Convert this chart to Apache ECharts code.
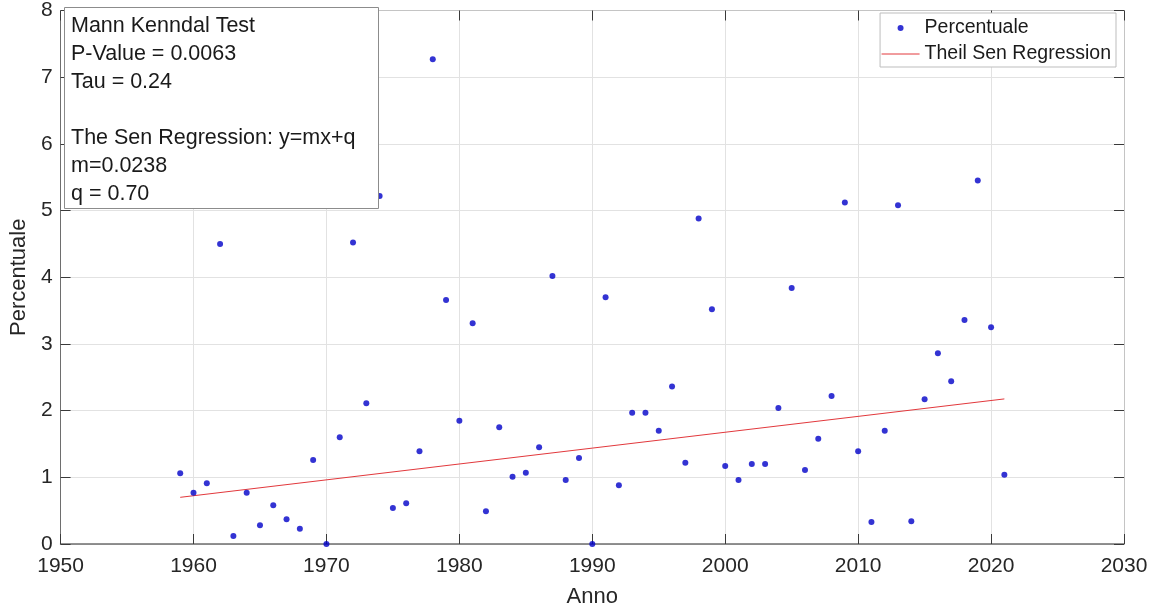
<!DOCTYPE html>
<html>
<head>
<meta charset="utf-8">
<script src="https://cdn.jsdelivr.net/npm/echarts@6/dist/echarts.min.js"></script>
<style>
  html, body { margin: 0; padding: 0; background: #ffffff; }
  #chart { width: 1158px; height: 613px; }
</style>
</head>
<body>
<div id="chart"></div>
<script>
// Annual percentage series
const years = [
  1959, 1960, 1961, 1962, 1963, 1964, 1965, 1966, 1967, 1968,
  1969, 1970, 1971, 1972, 1973, 1974, 1975, 1976, 1977, 1978,
  1979, 1980, 1981, 1982, 1983, 1984, 1985, 1986, 1987, 1988,
  1989, 1990, 1991, 1992, 1993, 1994, 1995, 1996, 1997, 1998,
  1999, 2000, 2001, 2002, 2003, 2004, 2005, 2006, 2007, 2008,
  2009, 2010, 2011, 2012, 2013, 2014, 2015, 2016, 2017, 2018,
  2019, 2020, 2021
];
const percentuale = [
  1.06, 0.77, 0.91, 4.50, 0.12, 0.77, 0.28, 0.58, 0.37, 0.23,
  1.26, 0.00, 1.60, 4.52, 2.11, 5.22, 0.54, 0.61, 1.39, 7.27,
  3.66, 1.85, 3.31, 0.49, 1.75, 1.01, 1.07, 1.45, 4.02, 0.96,
  1.29, 0.00, 3.70, 0.88, 1.97, 1.97, 1.70, 2.36, 1.22, 4.88,
  3.52, 1.17, 0.96, 1.20, 1.20, 2.04, 3.84, 1.11, 1.58, 2.22,
  5.12, 1.39, 0.33, 1.70, 5.08, 0.34, 2.17, 2.86, 2.44, 3.36,
  5.45, 3.25, 1.04
];

// Mann-Kendall / Theil-Sen results
const pValue = '0.0063';
const tau = '0.24';
const senM = 0.0238;
const senQ = 0.70;
const senYears = [1959, 2021];

// Axis ranges and ticks
const xMin = 1950, xMax = 2030, xStep = 10;
const yMin = 0, yMax = 8, yStep = 1;

const FONT = '"Liberation Sans", Arial, Helvetica, sans-serif';
const AXIS_DARK = '#3a3a3a';
const AXIS_LINE = '#6e6e6e';
const BOX_LINE = '#c4c4c4';
const GRID_LINE = '#e2e2e2';
const DOT_BLUE = '#0000c8';
const SEN_RED = '#e2383c';

const scatterData = years.map((y, i) => [y, percentuale[i]]);
const senLine = senYears.map(y => [y, senM * (y - senYears[0]) + senQ]);

const annotation = [
  'Mann Kenndal Test',
  'P-Value = ' + pValue,
  'Tau = ' + tau,
  '',
  'The Sen Regression: y=mx+q',
  'm=' + senM.toFixed(4),
  'q = ' + senQ.toFixed(2)
].join('\n');

const chart = echarts.init(document.getElementById('chart'), null, { renderer: 'canvas' });

const baseX = { type: 'value', min: xMin, max: xMax, interval: xStep };
const baseY = { type: 'value', min: yMin, max: yMax, interval: yStep };

chart.setOption({
  animation: false,
  backgroundColor: '#ffffff',
  textStyle: { fontFamily: FONT },
  grid: { left: 57.5, right: 34, top: 4, bottom: 67.5, containLabel: false },
  xAxis: [
    Object.assign({}, baseX, {
      position: 'bottom',
      name: 'Anno',
      nameLocation: 'middle',
      nameGap: 42,
      nameTextStyle: { fontFamily: FONT, fontSize: 22, color: '#262626' },
      axisLine: { show: true, onZero: false, lineStyle: { color: AXIS_LINE, width: 1.5 } },
      axisTick: { show: true, inside: true, length: 10, lineStyle: { color: AXIS_DARK, width: 1 } },
      axisLabel: {
        show: true, margin: 12, fontFamily: FONT, fontSize: 21, color: '#262626',
        formatter: v => String(v)
      },
      splitLine: { show: true, lineStyle: { color: GRID_LINE, width: 1 } }
    }),
    Object.assign({}, baseX, {
      position: 'top',
      axisLine: { show: true, onZero: false, lineStyle: { color: BOX_LINE, width: 1 } },
      axisTick: { show: true, inside: true, length: 10, lineStyle: { color: AXIS_DARK, width: 1 } },
      axisLabel: { show: false },
      splitLine: { show: false }
    })
  ],
  yAxis: [
    Object.assign({}, baseY, {
      position: 'left',
      name: 'Percentuale',
      nameLocation: 'middle',
      nameGap: 21,
      nameRotate: 90,
      nameTextStyle: { fontFamily: FONT, fontSize: 22, color: '#262626' },
      axisLine: { show: true, onZero: false, lineStyle: { color: AXIS_LINE, width: 1 } },
      axisTick: { show: true, inside: true, length: 10, lineStyle: { color: AXIS_DARK, width: 1 } },
      axisLabel: { show: true, margin: 8, fontFamily: FONT, fontSize: 21, color: '#262626' },
      splitLine: { show: true, lineStyle: { color: GRID_LINE, width: 1 } }
    }),
    Object.assign({}, baseY, {
      position: 'right',
      axisLine: { show: true, onZero: false, lineStyle: { color: BOX_LINE, width: 1 } },
      axisTick: { show: true, inside: true, length: 10, lineStyle: { color: AXIS_DARK, width: 1 } },
      axisLabel: { show: false },
      splitLine: { show: false }
    })
  ],
  legend: {
    orient: 'vertical',
    right: 42,
    top: 13,
    backgroundColor: '#ffffff',
    borderColor: '#bdbdbd',
    borderWidth: 1,
    padding: [5, 5, 3, 1],
    itemWidth: 38,
    itemHeight: 6,
    itemGap: 6,
    textStyle: { fontFamily: FONT, fontSize: 19.5, color: '#1a1a1a' },
    data: [
      { name: 'Percentuale', icon: 'circle' },
      {
        name: 'Theil Sen Regression',
        itemStyle: { color: 'rgba(0,0,0,0)', borderColor: 'rgba(0,0,0,0)', borderWidth: 0 },
        lineStyle: { color: SEN_RED, width: 1 }
      }
    ]
  },
  graphic: [
    {
      type: 'rect',
      left: 64,
      top: 7,
      z: 100,
      shape: { x: 0, y: 0, width: 314, height: 201 },
      style: { fill: '#ffffff', stroke: '#8c8c8c', lineWidth: 1 }
    },
    {
      type: 'text',
      left: 71,
      top: 12,
      z: 101,
      style: {
        text: annotation,
        font: '21.5px ' + FONT,
        lineHeight: 28,
        fill: '#1a1a1a'
      }
    }
  ],
  series: [
    {
      name: 'Percentuale',
      type: 'scatter',
      xAxisIndex: 0,
      yAxisIndex: 0,
      symbol: 'circle',
      symbolSize: 6,
      itemStyle: { color: DOT_BLUE },
      data: scatterData,
      z: 3
    },
    {
      name: 'Theil Sen Regression',
      type: 'line',
      xAxisIndex: 0,
      yAxisIndex: 0,
      symbol: 'none',
      lineStyle: { color: SEN_RED, width: 1 },
      itemStyle: { color: SEN_RED },
      data: senLine,
      z: 2
    }
  ]
});
</script>
</body>
</html>
